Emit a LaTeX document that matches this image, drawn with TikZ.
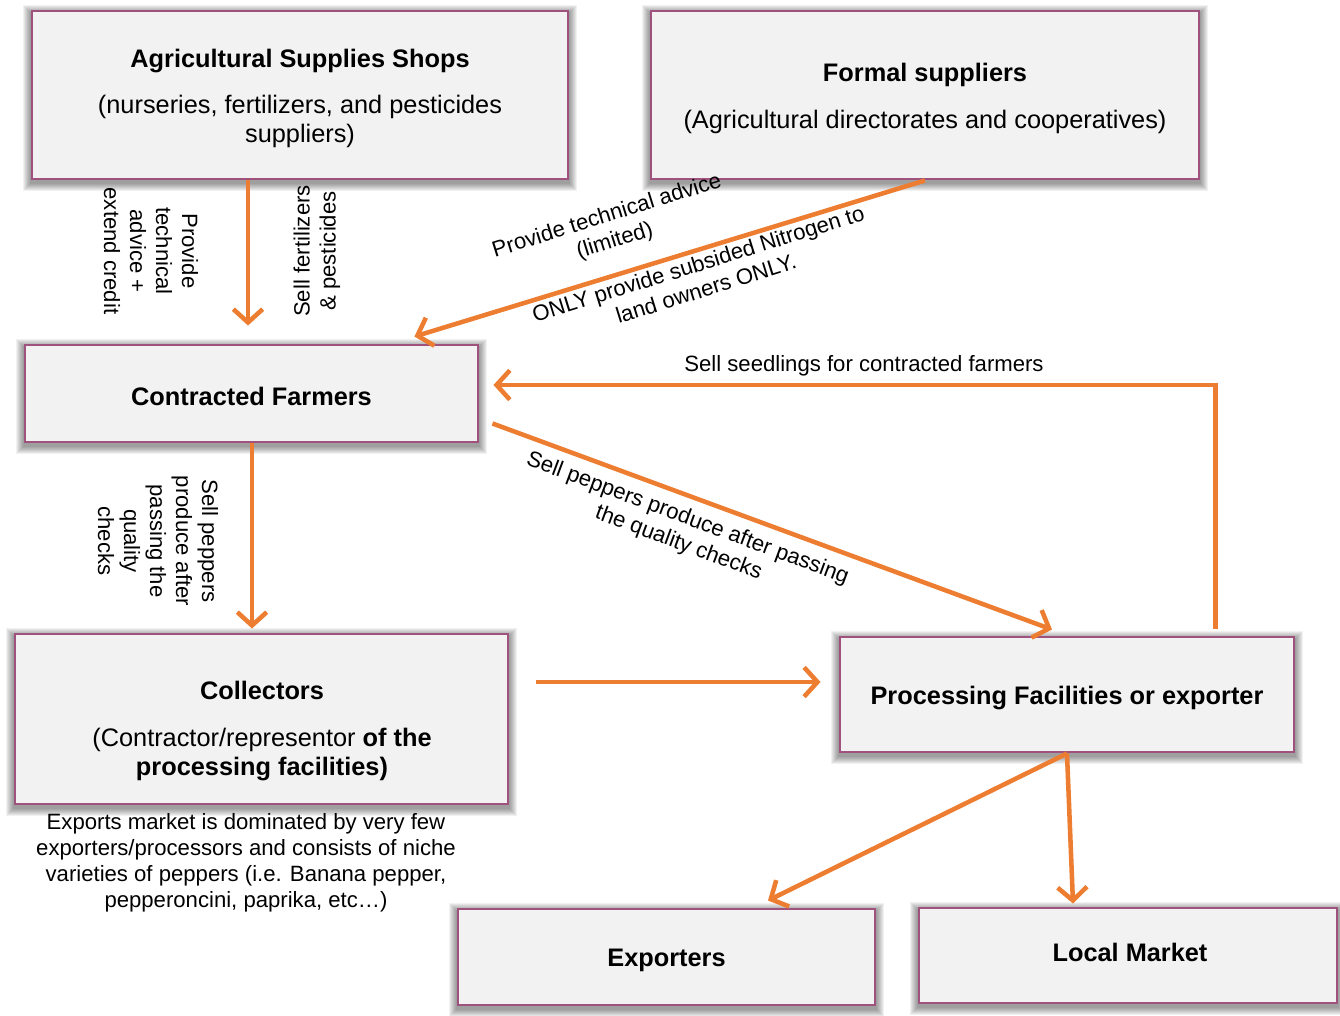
\documentclass[tikz,border=0pt]{standalone}
\usepackage{fontspec}
\setmainfont{Liberation Sans}
\usetikzlibrary{arrows.meta,backgrounds}

\definecolor{boxedge}{HTML}{A0527F}
\definecolor{boxfill}{HTML}{F2F2F2}
\definecolor{flow}{HTML}{ED7D31}

\tikzset{
  box/.style={draw=boxedge, line width=2.2pt, fill=boxfill, rectangle, inner sep=0pt},
  boxtext/.style={align=center, inner sep=0pt, font=\fontsize{19}{22}\selectfont},
  lbl/.style={align=center, inner sep=0pt, font=\fontsize{16.6}{19.5}\selectfont},
  flowarrow/.style={draw=flow, line width=3.4pt,
    -{Straight Barb[length=10pt,width=22pt]}},
}

% soft shadow behind a box
\newcommand\softshadow[1]{%
  \begin{scope}[on background layer]
    \foreach \k in {1,...,8}{
      \fill[black,opacity=0.055]
        ([shift={(-\k,-\k+3)}]#1.north west) rectangle ([shift={(\k,\k+3)}]#1.south east);
    }
  \end{scope}}

\begin{document}
\begin{tikzpicture}[x=0.75pt,y=-0.75pt]
  \begin{scope}[on background layer]
    \fill[white] (0,0) rectangle (1340,1015);
  \end{scope}
  \useasboundingbox (0,0) rectangle (1340,1015);

  % boxes
  \node[box, minimum width=536*0.75pt, minimum height=168*0.75pt] (shops) at (300,95) {};
  \node[box, minimum width=548*0.75pt, minimum height=168*0.75pt] (formal) at (925,95) {};
  \node[box, minimum width=453*0.75pt, minimum height=97*0.75pt] (farmers) at (251.5,393.5) {};
  \node[box, minimum width=493*0.75pt, minimum height=170*0.75pt] (collectors) at (261.5,719) {};
  \node[box, minimum width=454*0.75pt, minimum height=115*0.75pt] (processing) at (1067,694.5) {};
  \node[box, minimum width=417*0.75pt, minimum height=96*0.75pt] (exporters) at (666.5,957) {};
  \node[box, minimum width=418*0.75pt, minimum height=95*0.75pt] (local) at (1128,955.5) {};

  \foreach \b in {shops,formal,farmers,collectors,processing,exporters,local}{\softshadow{\b}}

  % box texts
  \node[boxtext] (shopstext) at ([shift={(0,3.5)}]shops.center)
    {\textbf{Agricultural Supplies Shops}\\[12pt](nurseries, fertilizers, and pesticides\\suppliers)};
  \node[boxtext] (formaltext) at ([shift={(0,3.5)}]formal.center)
    {\textbf{Formal suppliers}\\[13pt](Agricultural directorates and cooperatives)};
  \node[boxtext] (farmerstext) at ([shift={(0,2.5)}]farmers.center) {\textbf{Contracted Farmers}};
  \node[boxtext] (colltext) at (262,731)
    {\textbf{Collectors}\\[13pt](Contractor/representor \textbf{of the}\\\textbf{processing facilities)}};
  \node[boxtext] (proctext) at ([shift={(0,3.5)}]processing.center) {\textbf{Processing Facilities or exporter}};
  \node[boxtext] (exptext) at ([shift={(0,3.5)}]exporters.center) {\textbf{Exporters}};
  \node[boxtext] (localtext) at (1130,952) {\textbf{Local Market}};

  % flows
  \draw[flowarrow, shorten >=13.5pt] (shops.south -| 248,0) -- (farmers.north -| 248,0);
  \draw[flowarrow] (formal.south) -- ([shift={(-65,-7)}]farmers.north east);
  \draw[flowarrow] ([shift={(-80,-7)}]processing.north east) |- ([shift={(14,-8.5)}]farmers.east);
  \draw[flowarrow] ([shift={(13,-20)}]farmers.south east) -- ([shift={(-15,-6)}]processing.north);
  \draw[flowarrow, shorten >=3pt] (farmers.south -| 252,0) -- (collectors.north -| 252,0);
  \draw[flowarrow] ([shift={(27,-37)}]collectors.east) -- ([shift={(-18,-12.5)}]processing.west);
  \draw[flowarrow] (processing.south) -- ([shift={(101.5,-7)}]exporters.north);
  \draw[flowarrow] (processing.south) -- ([shift={(-55,-3)}]local.north);

  % flow labels
  \node[lbl, rotate=-90] (advice) at (151,251) {Provide\\technical\\advice +\\extend credit};
  \node[lbl, rotate=90] (sellfert) at (317,251) {Sell fertilizers\\\& pesticides};
  \node[lbl, rotate=-90] (sellcoll) at (158,541) {Sell peppers\\produce after\\passing the\\quality\\checks};
  \node[lbl, rotate=17.3] (techlim) at (611,229) {Provide technical advice\\(limited)};
  \node[lbl, rotate=17.3] (nitrogen) at (702,276) {ONLY provide subsided Nitrogen to\\land owners ONLY.};
  \node[lbl, rotate=-20.4] (sellproc) at (683,531) {Sell peppers produce after passing\\the quality checks};
  \node[lbl] (seedlings) at (864,366) {Sell seedlings for contracted farmers};

  % note on the export market
  \node[lbl] (note) at (246,863)
    {Exports market is dominated by very few\\exporters/processors and consists of niche\\varieties of peppers (i.e. Banana pepper,\\pepperoncini, paprika, etc\dots)};
\end{tikzpicture}
\end{document}
